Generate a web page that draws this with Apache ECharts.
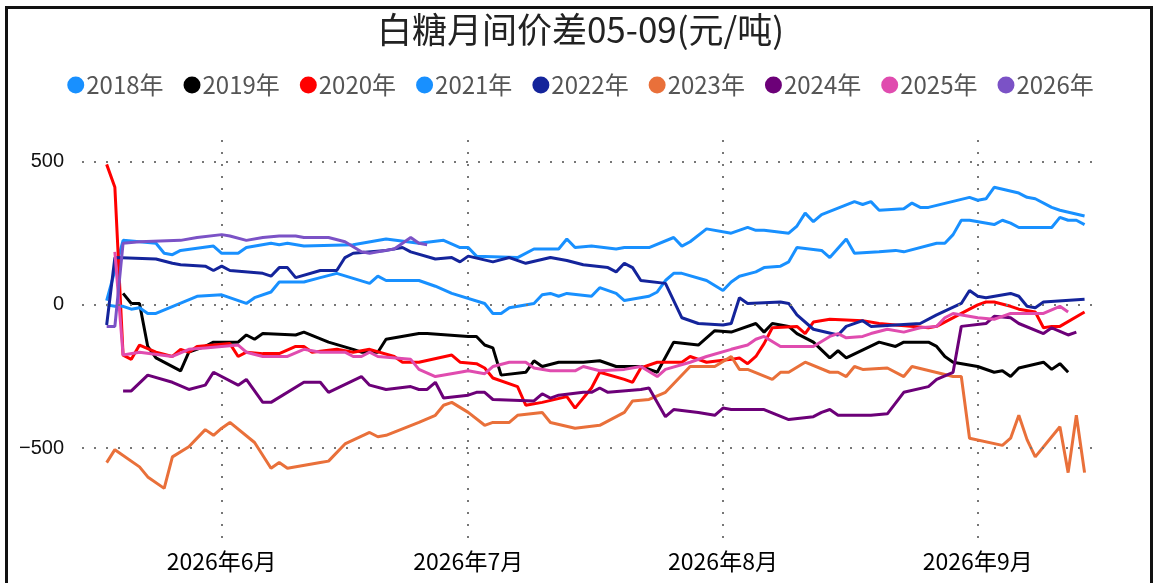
<!DOCTYPE html>
<html>
<head>
<meta charset="UTF-8">
<title>白糖月间价差05-09</title>
<script src="https://cdn.jsdelivr.net/npm/echarts@6/dist/echarts.min.js"></script>
<style type="text/css">
    body { margin: 0; padding: 0; background: #fff; }
    #main { position: absolute; left: 0; top: 0; width: 1161px; height: 583px; }
    .frame {
        position: absolute; left: 5px; top: 6px; width: 1148px; height: 620px;
        border: 3px solid #111; box-sizing: border-box; pointer-events: none;
    }
</style>
</head>
<body>
<div id="main"></div>
<div class="frame"></div>
<script type="text/javascript">
// 年份 & 颜色
var years = ['2018年', '2019年', '2020年', '2021年', '2022年', '2023年', '2024年', '2025年', '2026年'];
var colors = ['#1890ff', '#000000', '#ff0000', '#1890ff', '#14249b', '#e9703a', '#6c0078', '#e04caf', '#7b52c6'];
var yTicks = [-500, 0, 500];

// 每年的价差 [月-日, 元/吨]
var s2018 = [['05-18',15],['05-20',225],['05-22',220],['05-24',215],['05-25',180],['05-26',175],['05-27',190],['05-31',205],['06-01',180],['06-03',180],['06-04',200],['06-07',215],['06-08',210],['06-09',215],['06-11',205],['06-17',210],['06-21',230],['06-25',215],['06-28',225],['06-30',200],['07-01',200],['07-02',170],['07-07',165],['07-09',195],['07-12',195],['07-13',230],['07-14',200],['07-16',205],['07-19',195],['07-20',200],['07-23',200],['07-26',235],['07-27',205],['07-28',220],['07-30',265],['08-02',250],['08-04',270],['08-05',260],['08-06',260],['08-09',250],['08-10',275],['08-11',320],['08-12',290],['08-13',315],['08-17',360],['08-18',350],['08-19',360],['08-20',330],['08-23',335],['08-24',355],['08-25',340],['08-26',340],['08-31',375],['09-01',365],['09-02',370],['09-03',410],['09-06',390],['09-07',375],['09-08',370],['09-10',340],['09-11',330],['09-14',310]];
var s2019 = [['05-20',40],['05-21',5],['05-22',5],['05-23',-145],['05-24',-185],['05-27',-230],['05-28',-165],['05-30',-145],['05-31',-130],['06-03',-130],['06-04',-105],['06-05',-120],['06-06',-100],['06-10',-105],['06-11',-95],['06-14',-130],['06-17',-155],['06-18',-165],['06-20',-165],['06-21',-120],['06-25',-100],['06-26',-100],['07-01',-110],['07-02',-110],['07-03',-140],['07-04',-150],['07-05',-245],['07-08',-235],['07-09',-195],['07-10',-215],['07-12',-200],['07-15',-200],['07-17',-195],['07-19',-215],['07-22',-215],['07-24',-235],['07-26',-130],['07-29',-140],['07-31',-90],['08-02',-95],['08-05',-65],['08-06',-95],['08-07',-65],['08-09',-75],['08-10',-100],['08-12',-130],['08-14',-185],['08-15',-160],['08-16',-185],['08-20',-130],['08-22',-145],['08-23',-130],['08-26',-130],['08-27',-145],['08-28',-180],['08-29',-200],['09-01',-215],['09-03',-235],['09-04',-230],['09-05',-250],['09-06',-220],['09-09',-200],['09-10',-225],['09-11',-205],['09-12',-235]];
var s2020 = [['05-18',490],['05-19',410],['05-20',-175],['05-21',-190],['05-22',-140],['05-24',-165],['05-26',-180],['05-27',-155],['05-28',-165],['05-29',-145],['06-02',-135],['06-03',-180],['06-04',-165],['06-06',-170],['06-08',-170],['06-10',-145],['06-11',-145],['06-12',-165],['06-15',-155],['06-17',-165],['06-19',-155],['06-22',-180],['06-23',-200],['06-25',-200],['06-29',-175],['06-30',-200],['07-02',-205],['07-03',-220],['07-04',-255],['07-07',-285],['07-08',-350],['07-10',-340],['07-13',-320],['07-14',-360],['07-16',-290],['07-17',-235],['07-20',-260],['07-21',-270],['07-22',-220],['07-24',-200],['07-27',-200],['07-28',-180],['07-30',-200],['08-02',-190],['08-03',-185],['08-04',-205],['08-05',-180],['08-06',-135],['08-07',-80],['08-10',-75],['08-11',-100],['08-12',-60],['08-14',-50],['08-18',-55],['08-20',-65],['08-22',-70],['08-26',-80],['08-27',-75],['08-31',-15],['09-01',0],['09-02',10],['09-03',10],['09-05',-5],['09-06',-15],['09-08',-25],['09-09',-80],['09-10',-75],['09-11',-75],['09-14',-25]];
var s2021 = [['05-18',0],['05-19',-5],['05-20',-5],['05-21',-15],['05-22',-10],['05-23',-30],['05-24',-30],['05-29',30],['06-01',35],['06-04',5],['06-05',25],['06-07',45],['06-08',80],['06-11',80],['06-13',95],['06-15',110],['06-19',75],['06-20',100],['06-21',85],['06-25',85],['06-27',65],['06-29',40],['07-03',5],['07-04',-30],['07-05',-30],['07-06',-10],['07-09',5],['07-10',35],['07-11',40],['07-12',30],['07-13',40],['07-16',30],['07-17',60],['07-19',40],['07-20',15],['07-23',30],['07-24',45],['07-25',85],['07-26',110],['07-27',110],['07-30',85],['08-01',50],['08-02',80],['08-03',100],['08-05',115],['08-06',130],['08-08',135],['08-09',150],['08-10',200],['08-13',190],['08-14',165],['08-16',230],['08-17',180],['08-20',185],['08-22',190],['08-23',185],['08-27',215],['08-28',215],['08-29',245],['08-30',295],['08-31',295],['09-03',280],['09-04',295],['09-05',285],['09-06',270],['09-10',270],['09-11',305],['09-12',295],['09-13',295],['09-14',280]];
var s2022 = [['05-18',-70],['05-19',165],['05-24',160],['05-26',145],['05-27',140],['05-30',135],['05-31',120],['06-01',135],['06-02',120],['06-06',110],['06-07',100],['06-08',130],['06-09',130],['06-10',95],['06-13',120],['06-15',120],['06-16',165],['06-17',180],['06-21',190],['06-23',200],['06-24',185],['06-27',160],['06-29',165],['06-30',150],['07-01',170],['07-04',150],['07-06',165],['07-08',145],['07-11',165],['07-13',155],['07-15',140],['07-18',130],['07-19',115],['07-20',145],['07-21',130],['07-22',85],['07-25',75],['07-27',-45],['07-29',-65],['08-01',-70],['08-02',-65],['08-03',25],['08-04',5],['08-08',10],['08-09',5],['08-10',-35],['08-12',-85],['08-15',-105],['08-16',-75],['08-18',-55],['08-19',-75],['08-25',-65],['08-27',-35],['08-30',5],['08-31',50],['09-01',30],['09-02',25],['09-05',40],['09-06',30],['09-07',-5],['09-08',-10],['09-09',10],['09-14',20]];
var s2023 = [['05-18',-550],['05-19',-505],['05-22',-565],['05-23',-600],['05-25',-640],['05-26',-530],['05-28',-495],['05-30',-435],['05-31',-455],['06-01',-430],['06-02',-410],['06-05',-480],['06-07',-570],['06-08',-550],['06-09',-570],['06-13',-550],['06-14',-545],['06-16',-485],['06-19',-445],['06-20',-460],['06-21',-455],['06-25',-410],['06-27',-385],['06-28',-350],['06-29',-340],['07-01',-375],['07-03',-420],['07-04',-410],['07-06',-410],['07-07',-385],['07-10',-375],['07-11',-410],['07-14',-430],['07-17',-420],['07-20',-375],['07-21',-335],['07-23',-330],['07-25',-305],['07-28',-215],['07-31',-215],['08-02',-180],['08-03',-225],['08-04',-225],['08-07',-260],['08-08',-235],['08-09',-235],['08-11',-200],['08-14',-235],['08-15',-235],['08-16',-250],['08-17',-215],['08-18',-225],['08-21',-220],['08-23',-250],['08-24',-215],['08-29',-250],['08-30',-250],['08-31',-465],['09-04',-490],['09-05',-465],['09-06',-385],['09-07',-470],['09-08',-530],['09-11',-425],['09-12',-585],['09-13',-385],['09-14',-585]];
var s2024 = [['05-20',-300],['05-21',-300],['05-23',-245],['05-26',-270],['05-28',-295],['05-30',-280],['05-31',-235],['06-03',-280],['06-04',-260],['06-06',-340],['06-07',-340],['06-11',-270],['06-13',-270],['06-14',-305],['06-18',-250],['06-19',-280],['06-21',-295],['06-24',-285],['06-25',-295],['06-26',-295],['06-27',-270],['06-28',-325],['07-01',-315],['07-02',-305],['07-03',-305],['07-04',-330],['07-09',-335],['07-10',-310],['07-11',-325],['07-12',-315],['07-15',-305],['07-16',-305],['07-17',-290],['07-18',-305],['07-22',-295],['07-23',-290],['07-25',-390],['07-26',-365],['07-29',-375],['07-31',-385],['08-01',-360],['08-02',-365],['08-06',-365],['08-09',-400],['08-12',-390],['08-13',-375],['08-14',-365],['08-15',-385],['08-19',-385],['08-21',-380],['08-23',-305],['08-26',-285],['08-27',-260],['08-29',-235],['08-30',-75],['09-02',-65],['09-03',-40],['09-05',-45],['09-06',-65],['09-09',-100],['09-10',-80],['09-12',-105],['09-13',-95]];
var s2025 = [['05-19',185],['05-20',-175],['05-22',-165],['05-26',-180],['05-28',-155],['05-30',-150],['06-03',-140],['06-04',-165],['06-06',-180],['06-09',-180],['06-11',-155],['06-13',-165],['06-16',-165],['06-17',-180],['06-18',-180],['06-19',-165],['06-20',-180],['06-24',-190],['06-25',-225],['06-27',-250],['06-30',-235],['07-01',-230],['07-03',-240],['07-04',-215],['07-06',-200],['07-08',-200],['07-09',-220],['07-11',-230],['07-14',-230],['07-15',-215],['07-17',-230],['07-20',-225],['07-22',-215],['07-24',-250],['07-25',-225],['07-28',-200],['07-30',-180],['08-02',-155],['08-04',-140],['08-05',-120],['08-06',-110],['08-08',-145],['08-12',-145],['08-14',-110],['08-15',-100],['08-16',-115],['08-18',-110],['08-19',-100],['08-21',-85],['08-23',-95],['08-25',-80],['08-27',-75],['08-28',-45],['08-29',-30],['09-01',-45],['09-03',-50],['09-04',-40],['09-05',-30],['09-09',-30],['09-11',-5],['09-12',-25]];
var s2026 = [['05-18',-75],['05-19',-75],['05-20',215],['05-22',220],['05-27',225],['05-29',235],['06-01',245],['06-02',240],['06-04',225],['06-06',235],['06-08',240],['06-10',240],['06-11',235],['06-14',235],['06-16',220],['06-18',185],['06-19',180],['06-21',190],['06-22',195],['06-23',215],['06-24',235],['06-25',215],['06-26',210]];

var allData = [s2018, s2019, s2020, s2021, s2022, s2023, s2024, s2025, s2026];

function toPoints(arr) {
    return arr.map(function (p) { return ['2026-' + p[0], p[1]]; });
}

var series = years.map(function (name, i) {
    return {
        name: name,
        type: 'line',
        data: toPoints(allData[i]),
        showSymbol: false,
        symbol: 'circle',
        color: colors[i],
        lineStyle: { width: 3, color: colors[i] },
        emphasis: { disabled: true }
    };
});

// 水平网格线 (-500 / 0 / 500)
series.push({
    type: 'line',
    data: [],
    silent: true,
    markLine: {
        symbol: 'none',
        silent: true,
        label: { show: false },
        lineStyle: { color: '#777', width: 2, type: [2, 10] },
        data: yTicks.map(function (v) { return { yAxis: v }; })
    }
});

var chart = echarts.init(document.getElementById('main'));
chart.setOption({
    animation: false,
    backgroundColor: '#fff',
    title: {
        text: '白糖月间价差05-09(元/吨)',
        left: 'center',
        top: 7,
        textStyle: { fontFamily: 'Noto Sans CJK SC', fontSize: 35, fontWeight: 'normal', color: '#222' }
    },
    legend: {
        data: years,
        top: 68,
        left: 'center',
        icon: 'circle',
        itemWidth: 17,
        itemHeight: 17,
        itemGap: 20,
        textStyle: { fontFamily: 'Noto Sans CJK SC', fontSize: 24, color: '#555', padding: [0, 0, 0, -3] }
    },
    grid: { left: 82, right: 60, top: 140, bottom: 43, containLabel: false },
    xAxis: {
        type: 'time',
        min: '2026-05-15',
        max: '2026-09-16',
        splitNumber: 4,
        minInterval: 28 * 86400000,
        axisLine: { show: false },
        axisTick: { show: false },
        axisLabel: {
            margin: 10,
            fontFamily: 'Noto Sans CJK SC',
            fontSize: 23,
            color: '#000',
            formatter: function (val) {
                var d = new Date(val);
                if (d.getDate() !== 1) return '';
                return d.getFullYear() + '年' + (d.getMonth() + 1) + '月';
            }
        },
        splitLine: {
            show: true,
            showMinLine: false,
            showMaxLine: false,
            lineStyle: { color: '#777', width: 2, type: [2, 10] }
        }
    },
    yAxis: {
        type: 'value',
        min: -820,
        max: 575,
        splitNumber: 3,
        axisLine: { show: false },
        axisTick: { show: false },
        splitLine: { show: false },
        axisLabel: {
            margin: 18,
            showMinLabel: false,
            showMaxLabel: false,
            fontFamily: 'Liberation Sans',
            fontSize: 20,
            color: '#111',
            formatter: function (v) {
                return yTicks.indexOf(v) >= 0 ? String(v).replace('-', '\u2212') : '';
            }
        }
    },
    series: series
});
</script>
</body>
</html>
